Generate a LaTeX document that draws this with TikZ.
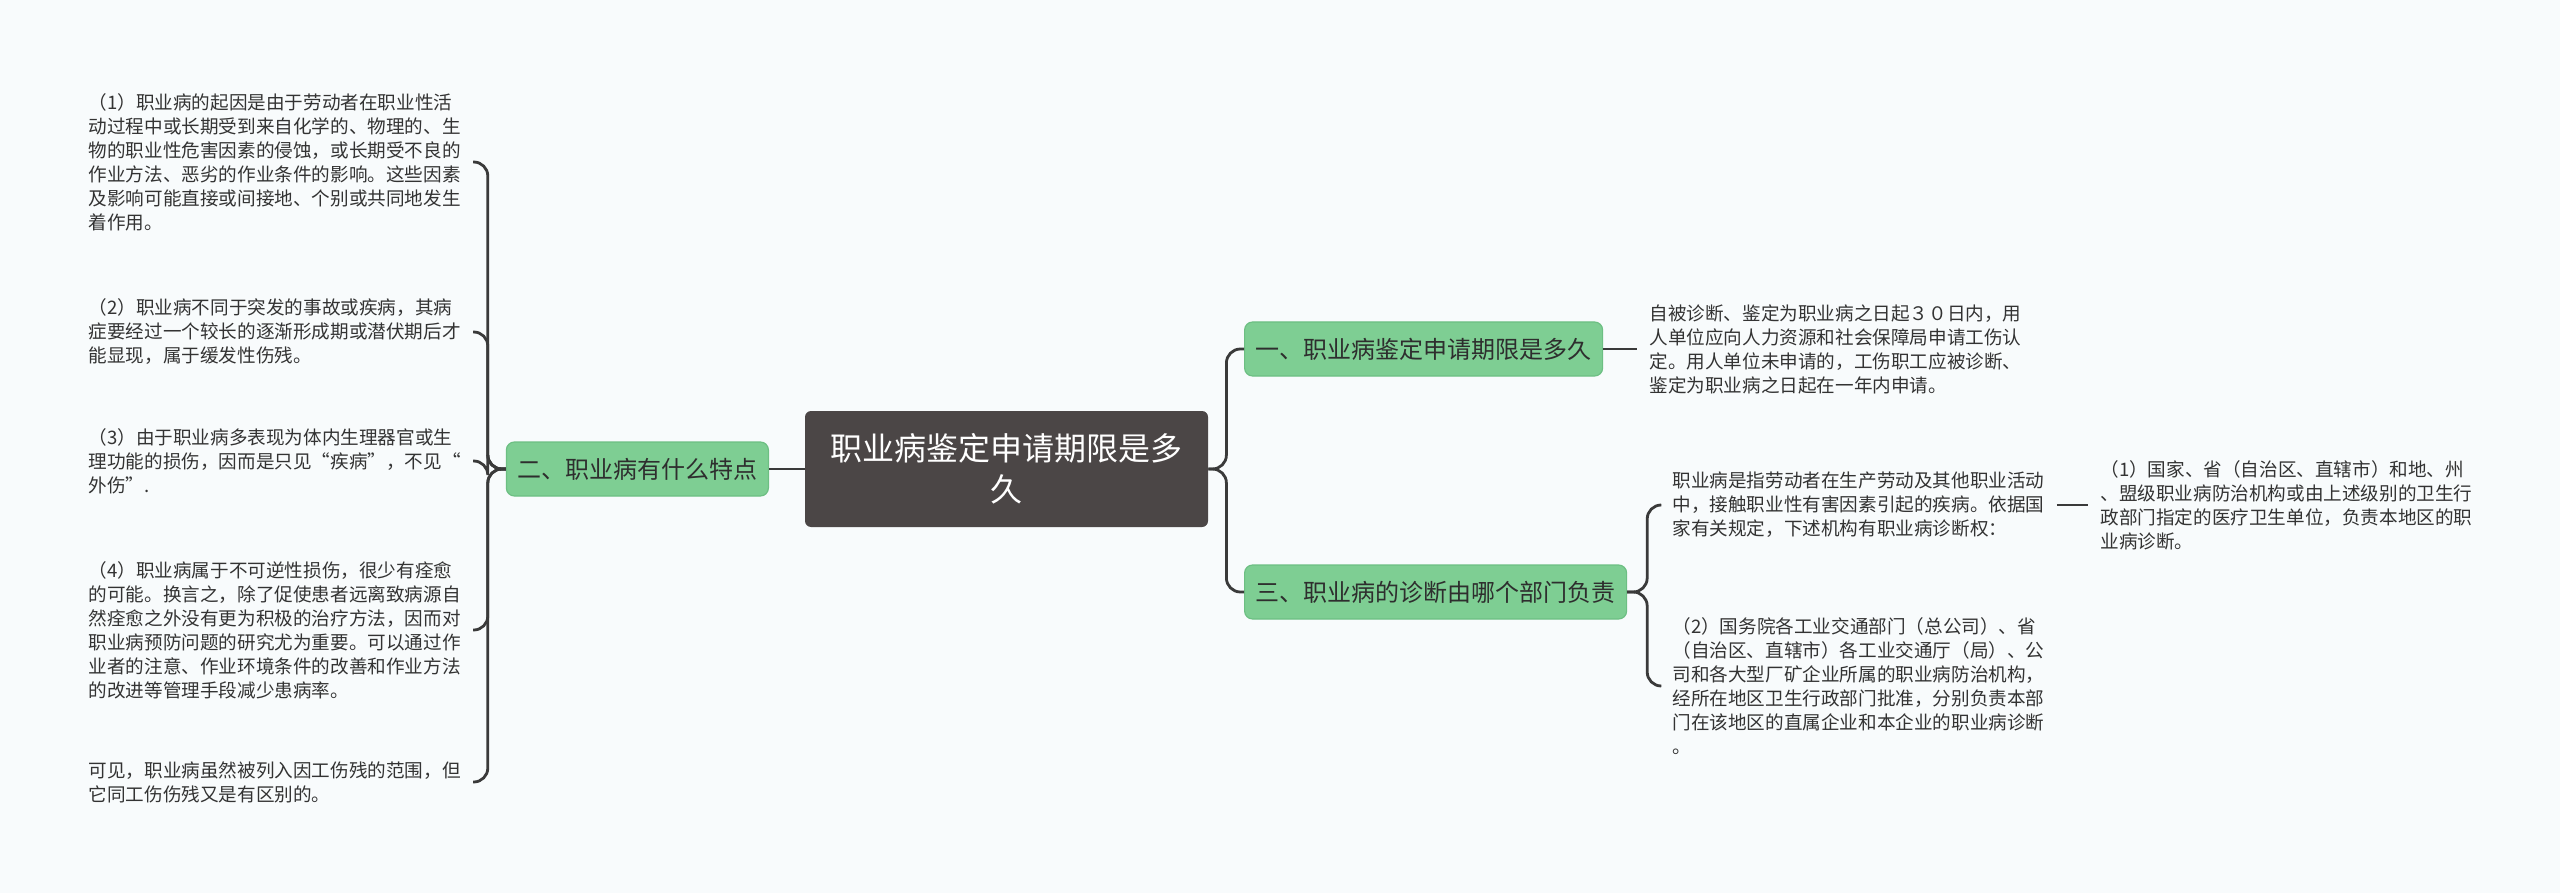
\documentclass[tikz,border=0pt]{standalone}
\usepackage{fontspec}
\setmainfont{Noto Sans CJK SC}
\usepackage{tikz}
\usepackage{xcolor}
\definecolor{bgcol}{HTML}{F8FBFC}
\definecolor{rootcol}{HTML}{4B4646}
\definecolor{topicfill}{HTML}{7ECE93}
\definecolor{topicline}{HTML}{6DBF83}
\definecolor{topictext}{HTML}{2E2E2E}
\definecolor{linecol}{HTML}{3A3A3A}
\definecolor{leafcol}{HTML}{333333}

\begin{document}
\begin{tikzpicture}[x=0.5pt, y=-0.5pt,
    link/.style={draw=linecol, line width=1.4pt, rounded corners=7pt},
    rootbox/.style={fill=rootcol, rounded corners=3pt, text=white, align=center,
        font=\fontsize{16pt}{20.5pt}\selectfont, minimum width=201.5pt, minimum height=58pt},
    topic/.style={fill=topicfill, draw=topicline, line width=0.6pt, rounded corners=4pt,
        text=topictext, font=\fontsize{12pt}{14pt}\selectfont, minimum height=27pt, inner xsep=5.5pt},
    leaf/.style={text=leafcol, font=\fontsize{9.3pt}{12pt}\selectfont, align=left,
        text width=186pt, inner xsep=6pt, inner ysep=0pt}]
    % Background
    \fill[bgcol] (0,0) rectangle (2560,893);
    \useasboundingbox (0,0) rectangle (2560,893);

    % Central topic
    \node[rootbox] (root) at (1006.5,469) {职业病鉴定申请期限是多\\久};

    % Main branches
    \node[topic, anchor=east] (two) at (769,469) {二、职业病有什么特点};
    \node[topic, anchor=west] (one) at (1244,349) {一、职业病鉴定申请期限是多久};
    \node[topic, anchor=west] (three) at (1244,592) {三、职业病的诊断由哪个部门负责};

    % Left leaves
    \node[leaf, anchor=east] (featA) at (473,162) {（1）职业病的起因是由于劳动者在职业性活\\动过程中或长期受到来自化学的、物理的、生\\物的职业性危害因素的侵蚀，或长期受不良的\\作业方法、恶劣的作业条件的影响。这些因素\\及影响可能直接或间接地、个别或共同地发生\\着作用。};
    \node[leaf, anchor=east] (featB) at (473,332) {（2）职业病不同于突发的事故或疾病，其病\\症要经过一个较长的逐渐形成期或潜伏期后才\\能显现，属于缓发性伤残。};
    \node[leaf, anchor=east] (featC) at (473,461) {（3）由于职业病多表现为体内生理器官或生\\理功能的损伤，因而是只见“疾病”，不见“\\外伤”.};
    \node[leaf, anchor=east] (featD) at (473,630) {（4）职业病属于不可逆性损伤，很少有痊愈\\的可能。换言之，除了促使患者远离致病源自\\然痊愈之外没有更为积极的治疗方法，因而对\\职业病预防问题的研究尤为重要。可以通过作\\业者的注意、作业环境条件的改善和作业方法\\的改进等管理手段减少患病率。};
    \node[leaf, anchor=east] (featE) at (473,782) {可见，职业病虽然被列入因工伤残的范围，但\\它同工伤伤残又是有区别的。};

    % Right leaves
    \node[leaf, anchor=west] (limit) at (1637,349) {自被诊断、鉴定为职业病之日起３０日内，用\\人单位应向人力资源和社会保障局申请工伤认\\定。用人单位未申请的，工伤职工应被诊断、\\鉴定为职业病之日起在一年内申请。};
    \node[leaf, anchor=west] (orgA) at (1660,505) {职业病是指劳动者在生产劳动及其他职业活动\\中，接触职业性有害因素引起的疾病。依据国\\家有关规定，下述机构有职业病诊断权：};
    \node[leaf, anchor=west] (orgA1) at (2088,505) {（1）国家、省（自治区、直辖市）和地、州\\、盟级职业病防治机构或由上述级别的卫生行\\政部门指定的医疗卫生单位，负责本地区的职\\业病诊断。};
    \node[leaf, anchor=west] (orgB) at (1660,686) {（2）国务院各工业交通部门（总公司）、省\\（自治区、直辖市）各工业交通厅（局）、公\\司和各大型厂矿企业所属的职业病防治机构，\\经所在地区卫生行政部门批准，分别负责本部\\门在该地区的直属企业和本企业的职业病诊断\\。};

    % Links
    \draw[link] (root.west) -- (two.east);
    \draw[link] (root.east) -- ++(18,0) |- (one.west);
    \draw[link] (root.east) -- ++(18,0) |- (three.west);
    \foreach \f in {featA,featB,featC,featD,featE} {
        \draw[link] (two.west) -- ++(-18,0) |- (\f.east);
    }
    \draw[link] (one.east) -- (limit.west);
    \draw[link] (three.east) -- ++(20,0) |- (orgA.west);
    \draw[link] (three.east) -- ++(20,0) |- (orgB.west);
    \draw[link] (orgA.east) -- (orgA1.west);
\end{tikzpicture}
\end{document}
